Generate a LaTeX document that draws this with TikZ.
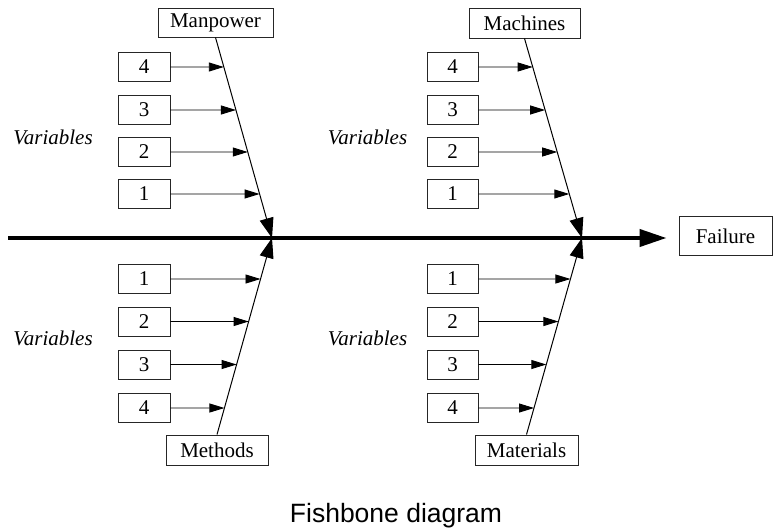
\documentclass[tikz,border=0pt]{standalone}
\usepackage{fontspec}
\setmainfont{Liberation Serif}
\newfontfamily\capfont{Liberation Sans}
\usetikzlibrary{arrows.meta}
\begin{document}
\begin{tikzpicture}[x=1pt,y=-1pt,
  box/.style={draw=black!85,line width=0.9pt,inner sep=0pt,minimum height=29pt,font=\fontsize{21}{25}\selectfont},
  numbox/.style={box,minimum width=52pt},
  varlabel/.style={font=\fontsize{21}{25}\selectfont\itshape},
  bone/.style={line width=1pt,-{Triangle[length=20pt,width=14pt]}},
  twig/.style={line width=0.9pt,-{Triangle[length=15pt,width=9pt]}},
  spine/.style={line width=4pt,-{Triangle[length=27pt,width=17pt]}}]
\useasboundingbox (0,0) rectangle (773,527);

% head boxes
\node[box,minimum width=115pt] (man) at (215.5,22.5) {Manpower};
\node[box,minimum width=111pt,minimum height=30pt] (mac) at (524.5,23) {Machines};
\node[box,minimum width=102pt,minimum height=30pt] (met) at (217,450) {Methods};
\node[box,minimum width=103pt,minimum height=30pt] (mat) at (526.5,450) {Materials};
\node[box,minimum width=93pt,minimum height=39pt] (fail) at (725.5,236) {Failure};

\coordinate (J1) at (272,238);
\coordinate (J2) at (582,238);
\coordinate (tail) at (8,238);

% spine
\draw[spine,shorten >=12pt] (tail) -- (fail.west |- tail);

% main bones
\draw[bone] (man.south) -- (J1);
\draw[bone] (met.north) -- (J1);
\draw[bone] (mac.south) -- (J2);
\draw[bone] (mat.north) -- (J2);

% variables labels
\node[varlabel] (v1) at (53,137) {Variables};
\node[varlabel] (v2) at (53,338) {Variables};
\node[varlabel] (v3) at (367.5,137) {Variables};
\node[varlabel] (v4) at (367.5,338) {Variables};

% number boxes, upper
\foreach \n/\y in {4/67,3/110,2/152,1/194}{
  \node[numbox] (ul\n) at (144,\y) {\n};
  \draw[twig] (ul\n.east) -- (intersection of man.south--J1 and ul\n.east--ul\n.west);
  \node[numbox,minimum width=51pt] (ur\n) at (452.5,\y) {\n};
  \draw[twig] (ur\n.east) -- (intersection of mac.south--J2 and ur\n.east--ur\n.west);
}
% number boxes, lower
\foreach \n/\y in {1/279,2/321.5,3/364.5,4/408}{
  \node[numbox] (ll\n) at (144,\y) {\n};
  \draw[twig] (ll\n.east) -- (intersection of met.north--J1 and ll\n.east--ll\n.west);
  \node[numbox,minimum width=51pt] (lr\n) at (452.5,\y) {\n};
  \draw[twig] (lr\n.east) -- (intersection of mat.north--J2 and lr\n.east--lr\n.west);
}

% caption
\node[anchor=base,font=\capfont\fontsize{26.5}{32}\selectfont] (cap) at (396,522) {Fishbone diagram};
\end{tikzpicture}
\end{document}
